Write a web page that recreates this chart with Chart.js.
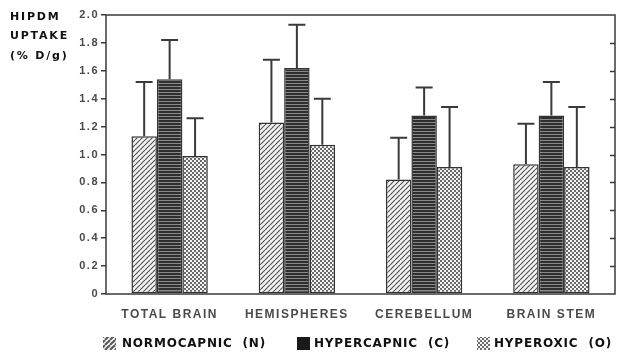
<!DOCTYPE html>
<html>
<head>
<meta charset="utf-8">
<script src="https://cdn.jsdelivr.net/npm/chart.js@4/dist/chart.umd.min.js"></script>
<style>
  html, body { margin: 0; padding: 0; background: #fff; }
  canvas { display: block; }
</style>
</head>
<body>
<canvas id="chart" width="618" height="355"></canvas>
<script>
// regions and group means, % D/g
const categories = ["TOTAL BRAIN", "HEMISPHERES", "CEREBELLUM", "BRAIN STEM"];
const normocapnic   = [1.13, 1.23, 0.82, 0.93];
const normocapnicSD = [0.39, 0.45, 0.30, 0.29];
const hypercapnic   = [1.54, 1.62, 1.28, 1.28];
const hypercapnicSD = [0.28, 0.31, 0.20, 0.24];
const hyperoxic     = [0.99, 1.07, 0.91, 0.91];
const hyperoxicSD   = [0.27, 0.33, 0.43, 0.43];
const seriesNames = ["NORMOCAPNIC  (N)", "HYPERCAPNIC  (C)", "HYPEROXIC  (O)"];
const yTitle = ["HIPDM", "UPTAKE", "(% D/g)"];

const INK = "#333";

function tile(size, draw) {
  const c = document.createElement("canvas");
  c.width = size; c.height = size;
  draw(c.getContext("2d"), size);
  return c;
}

// diagonal hatch (/)
function hatchTile(lw) {
  return tile(5, (g, s) => {
    g.fillStyle = "#f4f4f4"; g.fillRect(0, 0, s, s);
    g.strokeStyle = "#555"; g.lineWidth = lw;
    for (let k = -1; k <= 1; k++) {
      g.beginPath(); g.moveTo(k * s, s); g.lineTo(k * s + s, 0); g.stroke();
    }
  });
}
// dark with thin light horizontal lines
function stripeTile() {
  return tile(3, (g, s) => {
    g.fillStyle = "#2f2f2f"; g.fillRect(0, 0, s, s);
    g.fillStyle = "#8a8a8a"; g.fillRect(0, 2, s, 1);
  });
}
// fine checker
function checkTile() {
  return tile(4, (g, s) => {
    g.fillStyle = "#f2f2f2"; g.fillRect(0, 0, s, s);
    g.fillStyle = "#6a6a6a";
    g.fillRect(0, 0, 2, 2); g.fillRect(2, 2, 2, 2);
  });
}

const ctx0 = document.getElementById("chart").getContext("2d");
const patN = ctx0.createPattern(hatchTile(1.2), "repeat");
const patC = ctx0.createPattern(stripeTile(), "repeat");
const patO = ctx0.createPattern(checkTile(), "repeat");

const errorBars = {
  id: "errorBars",
  afterDatasetsDraw(chart) {
    const { ctx, scales: { y } } = chart;
    ctx.save();
    ctx.strokeStyle = "#3a3a3a";
    ctx.lineWidth = 2;
    chart.data.datasets.forEach((ds, di) => {
      chart.getDatasetMeta(di).data.forEach((bar, i) => {
        const top = y.getPixelForValue(ds.data[i] + ds.sd[i]);
        ctx.beginPath();
        ctx.moveTo(bar.x, bar.y); ctx.lineTo(bar.x, top);
        ctx.moveTo(bar.x - 8.5, top); ctx.lineTo(bar.x + 8.5, top);
        ctx.stroke();
      });
    });
    ctx.restore();
  },
};

const frame = {
  id: "frame",
  beforeDraw(chart) { chart.ctx.letterSpacing = "1.5px"; },
  afterDraw(chart) {
    const { ctx, chartArea: a, scales: { y } } = chart;
    ctx.save();
    ctx.strokeStyle = "#3a3a3a"; ctx.lineWidth = 1.5;
    ctx.strokeRect(a.left, a.top, a.right - a.left, a.bottom - a.top);
    // inward ticks on the right edge
    for (let v = 0.2; v < 1.95; v += 0.2) {
      const py = Math.round(y.getPixelForValue(v)) + 0.5;
      ctx.beginPath(); ctx.moveTo(a.right - 5, py); ctx.lineTo(a.right, py); ctx.stroke();
    }
    // y axis title
    ctx.fillStyle = "#111";
    ctx.font = "bold 11px 'DejaVu Sans'";
    ctx.letterSpacing = "1.8px";
    ctx.textBaseline = "middle";
    yTitle.forEach((t, i) => ctx.fillText(t, 10, 17 + i * 19.5));
    // legend
    const items = [
      { x: 103, tx: 122, text: seriesNames[0], fill: ctx.createPattern(hatchTile(2), "repeat") },
      { x: 297, tx: 314, text: seriesNames[1], fill: "#1a1a1a" },
      { x: 477, tx: 494, text: seriesNames[2], fill: patO },
    ];
    ctx.font = "bold 12px 'DejaVu Sans'";
    ctx.letterSpacing = "0.8px";
    items.forEach(it => {
      ctx.fillStyle = it.fill;
      ctx.fillRect(it.x, 337, 13, 13);
      ctx.fillStyle = "#111";
      ctx.fillText(it.text, it.tx, 344);
    });
    ctx.restore();
    ctx.letterSpacing = "0px";
  },
};

new Chart(ctx0, {
  type: "bar",
  data: {
    labels: categories,
    datasets: [
      { label: seriesNames[0], data: normocapnic, sd: normocapnicSD, backgroundColor: patN },
      { label: seriesNames[1], data: hypercapnic, sd: hypercapnicSD, backgroundColor: patC },
      { label: seriesNames[2], data: hyperoxic,   sd: hyperoxicSD,   backgroundColor: patO },
    ].map(d => ({ ...d, borderColor: INK, borderWidth: 1.5, borderSkipped: false })),
  },
  options: {
    responsive: false,
    animation: false,
    devicePixelRatio: 1,
    layout: { padding: { top: 15, right: 3, bottom: 0, left: 0 } },
    datasets: { bar: { categoryPercentage: 0.6, barPercentage: 1.0 } },
    plugins: { legend: { display: false }, tooltip: { enabled: false } },
    scales: {
      x: {
        grid: { display: false },
        border: { display: false },
        ticks: { color: "#4a4a4a", padding: 5, font: { family: "Liberation Sans", weight: "bold", size: 12 } },
        afterFit(s) { s.height = 61; },
      },
      y: {
        min: 0, max: 2,
        grid: { drawOnChartArea: false, drawTicks: true, tickLength: 5, color: "#3a3a3a", lineWidth: 1.5 },
        border: { display: false },
        ticks: {
          stepSize: 0.2, padding: 2, color: "#4a4a4a",
          font: { family: "Liberation Sans", weight: "bold", size: 11 },
          callback: v => (Math.abs(v) < 1e-9 ? "0" : v.toFixed(1)),
        },
        afterFit(s) { s.width = 106; },
      },
    },
  },
  plugins: [frame, errorBars],
});
</script>
</body>
</html>
